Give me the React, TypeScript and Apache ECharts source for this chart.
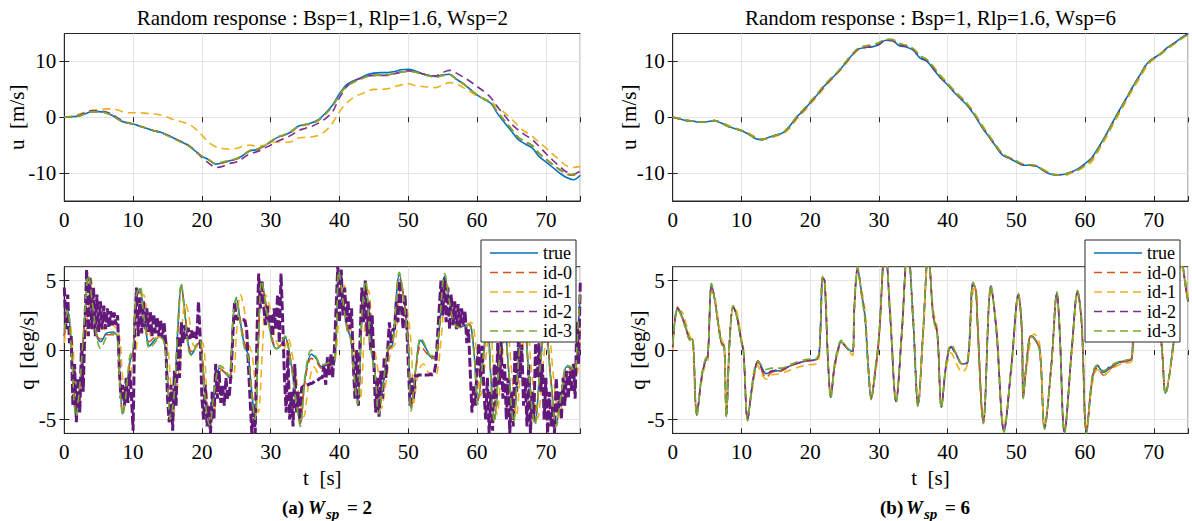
import React, { useEffect, useRef } from "react";
import * as echarts from "echarts";

const FONT = "Liberation Serif, Times New Roman, serif";
const NAMES = ["true", "id-0", "id-1", "id-2", "id-3"];
const COLORS = ["#0072BD", "#D95319", "#EDB120", "#7E2F8E", "#77AC30"];
const NOISY_PURPLE = "#62197A";
const TITLES = [
  "Random response : Bsp=1, Rlp=1.6, Wsp=2",
  "Random response : Bsp=1, Rlp=1.6, Wsp=6",
];
const X_MAX = 75;
const X_INTERVAL = 10;
const X_TICKS = [0, 10, 20, 30, 40, 50, 60, 70];
const U_TICKS = [-10, 0, 10];
const Q_TICKS = [-5, 0, 5];

// ---- top-left: u, Wsp=2 (1 s steps, t = 0..75)
const trueU2 = [0,0.1,0.2,0.6,1.0,1.0,0.8,0.3,-0.5,-1.0,-1.2,-1.6,-2.0,-2.4,-2.7,-3.2,-3.8,-4.4,-5.0,-6.0,-7.0,-7.6,-8.4,-8.2,-7.8,-7.5,-6.8,-6.0,-5.8,-5.2,-4.4,-3.6,-3.2,-2.6,-1.6,-1.3,-1.0,-0.4,0.8,2.2,4.2,5.8,6.5,7.0,7.6,7.9,8.0,8.0,8.2,8.5,8.6,8.3,7.8,7.5,7.3,7.6,7.7,6.8,6.0,5.0,4.0,3.2,2.5,0.6,-1.0,-2.5,-4.0,-4.8,-5.5,-7.0,-8.0,-9.0,-10.0,-10.8,-11.2,-10.4];
const id0U2 = [0,0.1,0.2,0.6,1.0,1.0,0.8,0.3,-0.5,-1.0,-1.2,-1.6,-2.0,-2.4,-2.7,-3.2,-3.8,-4.4,-5.0,-6.0,-7.0,-7.6,-8.3,-8.1,-7.8,-7.5,-6.8,-6.0,-5.8,-5.2,-4.4,-3.6,-3.2,-2.6,-1.7,-1.4,-1.1,-0.5,0.6,2.0,4.0,5.6,6.3,6.8,7.3,7.5,7.6,7.6,7.9,8.1,8.2,8.1,7.7,7.4,7.2,7.5,7.6,6.8,6.0,5.0,4.0,3.3,2.6,0.9,-0.6,-2.1,-3.6,-4.4,-5.1,-6.5,-7.5,-8.5,-9.4,-10.2,-10.4,-9.9];
const id1U2 = [0,0.2,0.5,0.9,1.2,1.4,1.5,1.5,1.2,0.8,0.8,0.8,0.7,0.6,0.4,0.0,-0.5,-0.8,-1.2,-2.0,-3.2,-4.5,-5.3,-5.6,-5.7,-5.6,-5.2,-5.0,-5.2,-5.0,-4.6,-4.4,-4.5,-4.4,-3.7,-3.6,-3.5,-3.2,-2.4,-1.0,1.0,2.5,3.5,4.1,4.6,5.0,5.0,5.1,5.5,5.8,6.0,5.7,5.5,5.4,5.3,5.8,6.2,6.0,5.3,4.6,3.8,3.3,2.8,1.8,0.8,-0.3,-1.6,-2.6,-3.4,-4.5,-5.5,-6.6,-7.7,-8.7,-9.0,-8.8];
const id2U2 = [0,0.1,0.3,0.8,1.2,1.1,1.0,0.5,-0.3,-0.9,-1.2,-1.6,-2.0,-2.4,-2.7,-3.2,-3.8,-4.4,-5.0,-6.0,-7.2,-8.2,-9.0,-8.8,-8.3,-8.0,-7.3,-6.5,-6.2,-5.6,-5.0,-4.3,-3.8,-3.2,-2.4,-2.0,-1.6,-1.0,-0.2,1.0,3.5,5.4,6.4,7.0,7.4,7.5,7.5,7.5,7.8,8.1,8.3,8.2,7.8,7.5,7.4,8.0,8.4,7.9,7.2,6.4,5.5,4.6,3.5,1.8,0.3,-1.2,-2.3,-3.2,-4.0,-5.2,-6.5,-7.7,-8.8,-9.8,-10.2,-9.6];
const id3U2 = [0,0.1,0.2,0.6,1.0,1.0,0.8,0.3,-0.5,-1.0,-1.2,-1.6,-2.0,-2.4,-2.7,-3.3,-3.9,-4.5,-5.1,-6.1,-7.0,-7.6,-8.3,-8.0,-7.7,-7.4,-6.7,-5.9,-5.7,-5.1,-4.3,-3.5,-3.1,-2.5,-1.6,-1.3,-1.0,-0.5,0.6,2.0,4.0,5.5,6.2,6.8,7.3,7.5,7.5,7.6,7.9,8.1,8.2,8.1,7.7,7.4,7.2,7.5,7.6,6.8,6.0,5.0,4.0,3.3,2.6,0.9,-0.6,-2.1,-3.6,-4.3,-5.0,-6.4,-7.4,-8.4,-9.3,-10.0,-10.3,-9.7];

// ---- top-right: u, Wsp=6 (1 s steps)
const trueU6 = [0,-0.3,-0.6,-0.7,-0.9,-0.8,-0.6,-1.0,-1.6,-2.0,-2.4,-3.0,-3.8,-4.0,-3.6,-3.2,-2.8,-1.6,0.0,1.2,2.6,4.0,5.5,6.8,8.0,9.5,11.0,12.2,12.5,12.6,13.0,13.8,13.7,12.8,12.6,12.0,10.6,10.0,8.5,7.0,5.8,4.4,3.2,1.9,0.2,-1.8,-3.5,-5.2,-6.8,-7.4,-8.0,-8.6,-8.6,-8.8,-9.6,-10.2,-10.3,-10.2,-9.8,-9.2,-8.3,-7.2,-5.3,-3.2,-0.9,1.3,3.4,5.6,7.6,9.6,10.6,11.4,12.5,13.3,14.2,15.0];
const id0U6 = [0,-0.2,-0.5,-0.7,-0.9,-0.8,-0.6,-0.9,-1.5,-2.0,-2.4,-2.9,-3.6,-4.0,-3.7,-3.3,-2.9,-1.8,-0.2,1.1,2.5,3.9,5.4,6.8,8.0,9.4,10.9,12.2,12.6,12.8,13.2,13.9,13.8,13.1,12.8,12.2,11.0,10.2,8.8,7.3,6.0,4.6,3.4,2.1,0.4,-1.6,-3.4,-5.1,-6.6,-7.3,-7.9,-8.5,-8.6,-8.8,-9.5,-10.1,-10.4,-10.3,-9.9,-9.4,-8.5,-7.5,-5.5,-3.4,-1.1,1.1,3.2,5.4,7.4,9.4,10.5,11.3,12.4,13.2,14.1,14.9];
const id1U6 = [0,-0.2,-0.5,-0.7,-0.8,-0.8,-0.6,-0.9,-1.4,-1.9,-2.3,-2.8,-3.5,-3.9,-3.8,-3.4,-3.0,-2.0,-0.4,0.9,2.3,3.7,5.2,6.6,7.9,9.3,10.8,12.1,12.6,12.8,13.2,13.9,13.9,13.2,12.9,12.3,11.1,10.3,9.0,7.5,6.1,4.8,3.6,2.3,0.6,-1.3,-3.1,-4.9,-6.5,-7.3,-7.9,-8.4,-8.6,-8.7,-9.4,-10.0,-10.4,-10.4,-10.0,-9.5,-8.8,-7.9,-5.9,-3.8,-1.5,0.7,2.9,5.1,7.1,9.1,10.4,11.2,12.2,13.1,14.0,14.8];
const id2U6 = [0,-0.3,-0.6,-0.7,-0.9,-0.8,-0.6,-1.0,-1.6,-2.0,-2.4,-3.0,-3.7,-4.0,-3.6,-3.2,-2.8,-1.7,-0.1,1.2,2.6,4.0,5.5,6.8,8.0,9.5,11.0,12.2,12.5,12.7,13.1,13.8,13.7,12.9,12.7,12.1,10.8,10.1,8.6,7.1,5.9,4.5,3.3,2.0,0.3,-1.7,-3.4,-5.1,-6.7,-7.3,-7.9,-8.5,-8.6,-8.8,-9.6,-10.2,-10.3,-10.2,-9.8,-9.3,-8.4,-7.3,-5.4,-3.3,-1.0,1.2,3.4,5.6,7.6,9.6,10.6,11.4,12.5,13.3,14.2,15.0];
const id3U6 = [0,-0.3,-0.6,-0.7,-0.9,-0.8,-0.6,-1.0,-1.6,-2.0,-2.4,-3.0,-3.8,-4.0,-3.6,-3.2,-2.8,-1.6,0.1,1.4,2.8,4.2,5.7,7.0,8.2,9.7,11.2,12.4,12.8,13.0,13.4,14.0,13.9,13.2,12.9,12.3,11.0,10.3,8.9,7.3,6.0,4.6,3.4,2.1,0.4,-1.6,-3.3,-5.0,-6.6,-7.2,-7.8,-8.4,-8.5,-8.7,-9.5,-10.1,-10.3,-10.2,-9.8,-9.4,-8.5,-7.4,-5.5,-3.4,-1.1,1.1,3.3,5.5,7.5,9.5,10.6,11.4,12.4,13.2,14.1,14.9];

// ---- bottom-left: q, Wsp=2
const tQ2 = [0,0.5,1.0,1.7,2.3,3.0,3.5,4.1,4.8,5.3, 6.1,7.0,7.7,8.0,8.5,9.0,9.5,10.0,10.4,11.0, 11.6,12.4,13.1,14.0,14.6,15.0,15.4,16.0,16.5,17.0, 17.5,18.1,18.5,19.2,19.7,20.1,20.6,21.1,21.8,22.6, 23.3,24.0,24.5,25.0,25.6,26.2,26.7,27.2,27.7,28.2, 28.7,29.4,30.2,30.8,31.4,32.1,32.9,33.7,34.3,35.0, 35.9,36.6,37.4,38.5,39.3,39.9,40.3,41.1,41.6,42.0, 42.6,43.3,43.8,44.5,45.2,45.7,46.4,47.1,47.7,48.7, 49.4,50.0,50.4,51.1,51.8,52.6,53.3,54.0,54.5,55.3, 56.0,56.8,57.8,58.8,59.5,60.1,60.8,61.5,62.0,62.5, 63.2,63.9,64.6,65.3,66.0,66.8,67.5,68.4,69.2,69.9, 70.7,71.5,72.3,73.0,73.6,74.2,74.6,75];
const trueQ2 = [1.0,2.8,0.5,-4.6,-2.5,2.5,5.2,3.5,0.9,0.6, 1.2,1.3,1.0,-1.5,-4.6,-3.2,-0.9,-0.1,3.5,4.4, 2.5,0.3,0.7,1.0,0.4,-2.0,-4.9,-3.2,1.5,4.7, 2.8,0.1,-0.3,0.3,0.6,-0.9,-4.0,-5.3,-3.2,-1.3, -1.6,-2.0,2.0,3.7,2.0,0.3,-0.3,-2.8,-4.9,0.5, 4.8,3.0,0.7,0.1,0.3,0.9,-0.8,-3.5,-5.3,-2.0, -0.3,-0.6,-1.2,-1.0,-0.8,5.5,4.5,1.6,0.9,-1.0, -3.7,2.7,4.8,0.4,-1.8,-4.4,-2.3,0.1,0.4,5.4, 3.5,0.4,-4.2,-1.3,0.7,0.1,-0.5,-0.4,1.5,5.3, 3.5,2.0,1.7,1.9,0.1,-3.7,-1.0,2.0,-2.0,-5.0, -1.0,2.2,-1.5,-5.0,-1.0,2.5,-1.5,-5.2,-1.0,2.0, -2.0,-5.3,-3.0,-1.2,-1.3,-1.6,1.0,4.0];
const id0Q2 = [1.0,2.7,0.5,-4.5,-2.5,2.4,5.0,3.4,1.0,0.8, 1.1,1.1,0.9,-1.4,-4.5,-3.2,-1.0,-0.2,3.3,4.2, 2.5,0.6,0.9,1.0,0.5,-1.9,-4.8,-3.2,1.3,4.5, 2.9,0.3,-0.1,0.3,0.6,-0.8,-3.9,-5.2,-3.3,-1.4, -1.6,-2.0,1.8,3.5,2.1,0.5,-0.2,-2.6,-4.8,0.3, 4.6,3.1,0.9,0.2,0.3,0.8,-0.7,-3.3,-5.2,-2.2, -0.6,-0.8,-1.3,-1.1,-0.8,5.3,4.5,1.8,1.0,-0.9, -3.6,2.5,4.7,0.6,-1.7,-4.3,-2.4,0.0,0.3,5.2, 3.6,0.6,-4.1,-1.4,0.3,-0.2,-0.6,-0.6,1.3,5.1, 3.6,2.1,1.7,1.9,0.2,-3.6,-1.1,1.9,-1.9,-4.9, -1.1,2.1,-1.5,-4.9,-1.1,2.4,-1.5,-5.1,-1.1,1.9, -2.0,-5.2,-3.0,-1.3,-1.4,-1.7,0.8,3.8];
const id3Q2 = [1.4,2.9,0.2,-4.8,-2.2,2.8,5.4,3.3,0.7,0.1, 0.9,1.2,1.0,-1.8,-4.7,-3.0,-0.5,0.2,3.8,4.6, 2.3,0.1,0.5,0.9,0.3,-2.2,-5.0,-3.0,1.8,4.8, 2.6,-0.1,-0.4,0.4,0.7,-1.0,-4.2,-5.4,-3.0,-1.1, -1.4,-1.9,2.2,3.8,1.8,0.1,-0.4,-3.0,-5.0,0.8, 5.0,2.8,0.6,0.1,0.4,1.0,-0.9,-3.7,-5.5,-1.8, 0.0,-0.5,-1.1,-0.9,-0.7,5.7,4.4,1.4,0.8,-1.2, -3.9,2.9,5.0,0.3,-1.9,-4.6,-2.2,0.2,0.5,5.6, 3.4,0.2,-4.4,-1.2,0.9,0.2,-0.4,-0.3,1.7,5.5, 3.4,1.8,1.6,1.8,0.0,-3.9,-0.9,2.1,-2.1,-5.2, -0.9,2.3,-1.6,-5.2,-0.9,2.6,-1.6,-5.4,-0.9,2.1, -2.1,-5.5,-2.9,-1.1,-1.2,-1.5,1.2,4.3];
const id1Q2Pairs = [[0,0.5],[0.6,2.5],[1.2,0.5],[2.0,-4.2],[2.6,-2.2],[3.4,2.5],[3.9,5.0],[4.5,3.3],[5.2,1.5],[5.8,1.5],[6.5,1.8],[7.3,1.7],[8.0,1.0],[8.4,-1.5],[8.9,-4.0],[9.4,-3.0],[9.9,-0.8],[10.4,-0.2],[10.9,3.0],[11.5,4.0],[12.1,2.5],[12.8,0.8],[13.5,0.9],[14.4,1.0],[15.0,0.3],[15.4,-2.0],[15.8,-4.8],[16.4,-3.0],[17.0,1.0],[17.6,3.4],[18.1,2.5],[18.7,0.4],[19.3,0.2],[19.9,0.6],[20.3,0.2],[20.8,-3.5],[21.5,-5.0],[22.2,-3.2],[23.0,-1.2],[23.8,-1.8],[24.5,-2.0],[25.0,1.0],[25.6,4.0],[26.2,2.8],[26.8,0.5],[27.3,-0.3],[27.8,-2.8],[28.2,-4.5],[28.8,0.0],[29.3,4.0],[29.9,3.0],[30.6,1.0],[31.2,0.2],[31.8,0.0],[32.5,0.8],[33.3,-0.8],[34.2,-3.5],[34.8,-4.8],[35.5,-2.5],[36.3,-1.2],[37.0,-1.8],[37.6,-2.0],[38.5,-1.2],[39.3,-0.9],[40.0,3.0],[40.6,4.8],[41.4,2.0],[42.0,0.8],[42.4,-1.0],[43.0,-3.5],[43.7,2.0],[44.2,4.3],[44.9,0.8],[45.6,-1.5],[46.1,-4.2],[46.8,-2.2],[47.5,0.0],[48.1,0.5],[49.0,4.7],[49.7,3.3],[50.4,0.5],[50.8,-3.8],[51.5,-1.5],[52.2,-1.0],[52.9,-1.6],[53.6,-1.9],[54.2,-1.6],[54.8,1.0],[55.6,4.8],[56.3,3.3],[57.1,2.0],[58.1,1.7],[59.1,2.0],[59.8,0.4],[60.5,-3.3],[61.2,-0.8],[61.9,1.8],[62.4,-1.8],[62.9,-4.6],[63.6,-0.8],[64.3,2.0],[65.0,-1.4],[65.7,-4.7],[66.4,-0.9],[67.2,2.3],[67.9,-1.4],[68.8,-4.9],[69.6,-1.0],[70.3,1.8],[71.1,-1.9],[71.9,-4.9],[72.7,-2.8],[73.4,-1.6],[74.0,-1.9],[74.6,-1.6],[75,1.5]];
// id-2 (noisy), sampled every 0.25 s
const id2Q2Step = 0.25;
const id2Q2 = [
  4.5,1.5,4.0,0.5, 1.0,-4.0,-1.0,-5.2, -2.0,-4.5,0.5,-3.0, 2.0,5.8,1.0,5.2, 1.5,4.5,1.0,4.0,
  1.3,3.5,1.5,3.2, 1.5,3.0,1.6,2.8, 1.8,2.7,1.8,2.5, -1.5,-3.5,-2.5,-4.0, -2.0,-3.8,-1.5,-3.2,
  -5.8,2.0,4.5,1.0, 3.8,1.2,3.5,1.5, 3.0,1.3,2.8,1.0, 2.6,1.2,2.4,1.0, 2.2,0.8,2.0,0.5,
  -3.5,-5.2,-2.5,-5.8, -1.5,-4.0,1.0,-2.0, 2.0,0.5,1.8,0.8, 1.6,0.8,1.4,0.9, 1.3,0.8,3.5,1.0,
  -3.5,-5.0,-2.5,-5.5, -4.0,-6.0,-3.0,-5.0, -1.0,-3.5,-1.5,-3.8, -2.5,-4.0,-2.0,-3.5, -3.2,-1.5,1.0,3.5,
  2.2,2.3,2.2,2.2, 2.2,2.1,1.5,-1.0, -3.5,-6.0,-4.0,-6.0, 1.0,5.5,3.0,5.0, 3.0,1.8,3.2,2.0,
  2.5,1.0,3.0,1.5, 4.0,0.5,5.5,2.0, -2.0,-4.5,0.0,-5.0, -3.0,-5.5,-1.0,-4.5, -3.0,-5.0,-2.7,-2.6,
  -2.6,-2.5,-2.5,-2.4, -2.4,-2.3,-2.2,-2.2, -2.1,-2.0,-2.0,-1.0, -2.5,-0.5,-1.8,-0.3, -2.0,0.0,3.0,6.0,
  2.0,5.8,2.5,4.5, 2.0,3.5,1.5,3.0, -1.0,-3.5,0.0,-4.0, 1.0,4.5,2.0,5.0, 1.0,3.5,0.0,2.5,
  -1.0,-4.5,-2.0,-4.8, -1.5,-3.5,-0.5,-2.0, 0.0,2.0,0.5,1.5, 1.5,3.5,2.0,5.0, 3.0,1.5,4.0,2.0,
  -1.0,-4.0,-2.0,-3.5, -1.8,-1.9,-1.8,-1.8, -1.8,-1.8,-1.8,-1.8, -1.8,-1.7,-1.8,-1.7, -1.0,1.0,3.0,5.0,
  2.5,5.2,2.0,4.5, 1.5,4.0,1.8,3.5, 1.5,3.3,1.6,3.0, 1.8,2.8,0.5,1.5, -1.5,-4.5,-2.5,-4.0,
  -1.0,0.5,-2.0,0.3, -3.0,-5.0,-2.0,-6.0, -3.0,-5.8,-1.0,-4.0, 0.5,-2.5,0.6,-3.5, -1.0,-5.0,-2.0,-6.0,
  -3.0,-5.5,0.0,-3.0, 0.6,-2.0,0.4,-4.0, -2.0,-5.5,-1.0,-6.0, -3.0,-5.0,0.5,-2.0, 0.5,-3.0,-1.0,-5.0,
  -2.0,-6.0,-3.0,-5.5, -4.0,-6.0,-2.0,-4.5, -3.0,-5.0,-2.0,-4.0, -1.5,-3.5,-1.5,-3.0, -1.0,-3.5,2.0,-1.0,
  5.0,
];

// ---- bottom-right: q, Wsp=6
const tQ6 = [0,0.7,1.2,2.0,2.5,2.85,3.5,4.2,4.7,5.1, 5.65,6.1,6.6,7.1,7.5,7.8,8.3,8.8,9.3,10.0, 10.3,10.9,11.5,12.0,12.4,12.8,13.6,14.4,15.8,17.3, 19.2,21.1,21.5,21.8,22.1,22.6,23.0,23.5,24.0,24.5, 25.0,25.5,26.2,26.4,26.9,27.5,28.0,28.4,28.9,29.4, 30.0,30.9,31.7,32.5,33.3,34.2,35.0,35.7,36.4,37.2, 37.9,38.5,39.1,39.8,40.5,41.3,42.1,42.9,43.7,44.1, 44.3,45.2,46.3,47.1,48.2,49.3,50.3,50.8,51.0,51.4, 52.1,52.6,53.4,54.1,55.1,55.9,56.3,57.0,58.1,58.9, 59.5,60.2,61.1,61.8,62.7,63.8,65.2,66.8,67.2,68.3, 69.3,70.3,71.1,71.7,72.9,74.0,74.8,75];
const trueQ6 = [0.2,3.0,2.6,1.5,0.8,0.8,-4.7,-2.0,-0.85,-0.5, 4.7,3.7,2.0,0.5,0.25,-4.8,0.85,3.1,2.5,0.6, -0.1,-5.0,-2.8,-1.3,-0.8,-1.1,-1.7,-1.55,-1.45,-1.1, -0.8,-0.6,1.55,5.2,5.0,-0.85,-3.4,-1.3,-0.1,0.6, 0.35,0.05,-0.1,2.8,5.9,4.0,2.3,-0.85,-3.5,-1.8, 0.85,7.5,2.0,-3.7,1.0,7.5,2.0,-4.0,1.0,7.0, 2.5,1.2,-4.1,-1.0,0.25,-0.35,-1.0,-0.85,4.8,4.3, 2.4,-5.2,4.6,1.4,-5.8,-1.0,4.0,1.4,-3.4,-1.4, 1.0,0.85,0.0,-5.6,-1.0,4.1,1.4,-5.9,0.25,4.2, 1.9,-5.9,-1.9,-1.15,-1.6,-1.2,-0.85,-0.6,5.5,4.0, 1.5,2.5,0.5,-3.1,0.7,6.5,4.0,3.5];
const id0Q6 = [0.2,3.1,2.6,1.4,0.8,0.8,-4.6,-2.0,-0.9,-0.5, 4.6,3.7,2.0,0.5,0.3,-4.7,0.8,3.1,2.6,0.7, -0.1,-4.9,-2.9,-1.4,-0.8,-1.3,-2.0,-1.6,-1.5,-1.1, -0.8,-0.6,1.5,5.2,5.0,-0.8,-3.3,-1.3,-0.1,0.6, 0.4,0.1,-0.1,2.7,5.8,4.0,2.3,-0.8,-3.4,-1.8, 0.8,7.4,2.0,-3.6,1.0,7.4,2.0,-3.9,1.0,7.0, 2.5,1.2,-4.0,-1.0,0.3,-0.3,-1.0,-0.9,4.7,4.3, 2.4,-5.1,4.5,1.4,-5.7,-1.0,3.9,1.4,-3.3,-1.4, 1.0,0.9,0.0,-5.5,-1.0,4.0,1.4,-5.8,0.3,4.1, 1.9,-5.8,-2.0,-1.3,-1.8,-1.3,-0.9,-0.7,5.4,4.0, 1.5,2.5,0.5,-3.0,0.7,6.4,4.0,3.5];
const id1Q6 = [0.0,2.8,2.8,1.8,1.0,0.7,-4.3,-2.3,-1.1,-0.8, 4.2,3.9,2.3,0.8,0.3,-4.5,0.6,3.0,2.8,0.9, 0.1,-4.7,-3.1,-1.6,-1.1,-1.6,-2.1,-1.8,-1.7,-1.4, -1.1,-0.9,1.2,4.8,5.0,-0.4,-3.2,-1.6,-0.3,0.5, 0.4,0.0,-0.4,2.3,5.5,4.3,2.7,-0.4,-3.2,-2.1, 0.5,7.2,2.6,-3.3,0.6,7.2,2.6,-3.7,0.6,6.8, 2.9,1.5,-3.8,-1.3,-0.2,-1.0,-1.6,-1.0,4.3,4.5, 2.8,-4.9,4.2,1.8,-5.4,-1.4,3.7,1.8,-3.0,-1.7, 0.7,1.15,0.4,-5.3,-1.4,3.8,1.8,-5.6,-0.2,3.9, 2.3,-5.6,-2.3,-1.4,-1.8,-1.4,-1.0,-0.8,5.0,4.3, 1.9,2.3,0.9,-2.8,0.3,6.0,4.6,3.8];
const id2Q6 = [0.2,3.0,2.6,1.5,0.8,0.8,-4.6,-2.0,-0.9,-0.5, 4.6,3.7,2.0,0.5,0.25,-4.8,0.8,3.1,2.5,0.6, -0.1,-5.0,-2.8,-1.3,-0.8,-1.2,-1.7,-1.5,-1.4,-1.1, -0.8,-0.6,1.5,5.2,5.0,-0.8,-3.4,-1.3,-0.1,0.6, 0.35,0.05,-0.1,2.8,5.9,4.0,2.3,-0.85,-3.5,-1.8, 0.85,7.5,2.0,-3.7,1.0,7.5,2.0,-4.0,1.0,7.0, 2.5,1.2,-4.1,-1.0,0.2,-0.4,-1.0,-0.9,4.8,4.3, 2.4,-5.2,4.6,1.4,-5.8,-1.0,4.0,1.4,-3.4,-1.4, 1.0,0.85,0.0,-5.6,-1.0,4.1,1.4,-5.9,0.25,4.2, 1.9,-5.9,-1.8,-1.1,-1.5,-1.1,-0.8,-0.6,5.5,4.0, 1.5,2.5,0.5,-3.1,0.7,6.5,4.0,3.5];
const id3Q6 = [0.4,3.0,2.5,1.4,0.7,0.9,-4.8,-1.8,-0.7,-0.3, 4.8,3.6,1.9,0.4,0.2,-4.9,1.0,3.2,2.4,0.5, -0.2,-5.1,-2.6,-1.1,-0.8,-1.0,-1.4,-1.3,-1.3,-1.0, -0.7,-0.5,1.8,5.3,4.8,-1.0,-3.5,-1.1,0.1,0.7, 0.4,0.1,-0.1,3.0,6.0,3.8,2.1,-1.0,-3.6,-1.6, 1.0,7.6,1.8,-3.8,1.2,7.6,1.8,-4.1,1.2,7.1, 2.3,1.0,-4.2,-0.8,0.4,-0.3,-1.0,-0.8,4.9,4.2, 2.2,-5.3,4.7,1.2,-5.9,-0.9,4.1,1.2,-3.5,-1.2, 1.0,0.8,-0.1,-5.7,-0.9,4.2,1.2,-6.0,0.4,4.3, 1.7,-6.0,-1.7,-1.1,-1.5,-1.1,-0.8,-0.5,5.6,3.9, 1.3,2.6,0.4,-3.2,0.9,6.6,3.9,3.4];

const perSecond = (vals: number[]) => vals.map((v, i) => [i, v]);
const zipT = (ts: number[], vals: number[]) => vals.map((v, i) => [ts[i], v]);
const stepped = (vals: number[], step: number) => vals.map((v, i) => [i * step, v]);

const GRIDS = [
  { left: 64.3, top: 33.5, width: 516, height: 167.5 },
  { left: 672.7, top: 33.5, width: 515.5, height: 167.5 },
  { left: 64.3, top: 266.7, width: 516, height: 166.7 },
  { left: 672.7, top: 266.7, width: 515.5, height: 166.7 },
];
const Y_NAME_OFFSETS = [47.3, 44.2, 37.3, 34.7];
const LEGEND_LEFTS = [481, 1085];

const DARK = "#262626";
const DASH = [8, 5];

function buildOption() {
  const xAxes: any[] = [];
  const yAxes: any[] = [];
  GRIDS.forEach((g, i) => {
    const isBottom = i >= 2;
    const ticks = isBottom ? Q_TICKS : U_TICKS;
    const yr = isBottom ? 6 : 15;
    xAxes.push({
      type: "value", gridIndex: i, min: 0, max: X_MAX, interval: X_INTERVAL, position: "bottom",
      axisLine: { show: true, onZero: false, lineStyle: { color: DARK, width: 1 } },
      axisTick: { show: true, inside: true, length: 5, lineStyle: { color: DARK } },
      axisLabel: { show: false },
      splitLine: { show: true, lineStyle: { color: "#e4e4e4", width: 1 } },
    });
    yAxes.push({
      type: "value", gridIndex: i, min: -yr, max: yr, position: "left",
      axisLine: { show: true, onZero: false, lineStyle: { color: DARK, width: 1 } },
      axisTick: { show: true, inside: true, length: 5, lineStyle: { color: DARK }, customValues: ticks },
      axisLabel: { show: false, customValues: ticks },
      splitLine: { show: true, lineStyle: { color: "#e4e4e4", width: 1 } },
    });
  });
  GRIDS.forEach((g, i) => {
    const isBottom = i >= 2;
    const ticks = isBottom ? Q_TICKS : U_TICKS;
    const yr = isBottom ? 6 : 15;
    xAxes.push({
      type: "value", gridIndex: i, min: 0, max: X_MAX, interval: X_INTERVAL, position: "top",
      axisLine: { show: false },
      axisTick: { show: true, inside: true, length: 5, lineStyle: { color: DARK } },
      axisLabel: { show: false }, splitLine: { show: false },
    });
    yAxes.push({
      type: "value", gridIndex: i, min: -yr, max: yr, position: "right",
      axisLine: { show: false },
      axisTick: { show: true, inside: true, length: 5, lineStyle: { color: DARK }, customValues: ticks },
      axisLabel: { show: false, customValues: ticks }, splitLine: { show: false },
    });
  });

  const datasets: any[][] = [
    [perSecond(trueU2), perSecond(id0U2), perSecond(id1U2), perSecond(id2U2), perSecond(id3U2)],
    [perSecond(trueU6), perSecond(id0U6), perSecond(id1U6), perSecond(id2U6), perSecond(id3U6)],
    [zipT(tQ2, trueQ2), zipT(tQ2, id0Q2), id1Q2Pairs, stepped(id2Q2, id2Q2Step), zipT(tQ2, id3Q2)],
    [zipT(tQ6, trueQ6), zipT(tQ6, id0Q6), zipT(tQ6, id1Q6), zipT(tQ6, id2Q6), zipT(tQ6, id3Q6)],
  ];

  const series: any[] = [];
  datasets.forEach((group, gi) => {
    group.forEach((data, si) => {
      const noisy = gi === 2 && si === 3;
      const color = noisy ? NOISY_PURPLE : COLORS[si];
      series.push({
        type: "line", name: NAMES[si], data,
        xAxisIndex: gi, yAxisIndex: gi,
        symbol: "none", showSymbol: false,
        smooth: noisy ? false : 0.35,
        clip: true,
        lineStyle: { color, width: noisy ? 3 : 1.6, type: si === 0 ? "solid" : (noisy ? [9, 3] : DASH) },
        itemStyle: { color },
        emphasis: { disabled: true },
        z: 2 + si,
      });
    });
  });

  return {
    animation: false,
    textStyle: { fontFamily: FONT },
    grid: GRIDS.map((g) => ({ ...g, show: true, borderColor: DARK, borderWidth: 1, containLabel: false })),
    xAxis: xAxes,
    yAxis: yAxes,
    series,
  };
}

const txt = (x: number, y: number, text: string, o: any = {}) => ({
  type: "text", x, y, z: o.z ?? 50, rotation: o.rotation ?? 0,
  style: {
    text, fill: "#000", fontSize: o.size ?? 21, fontFamily: FONT,
    fontWeight: o.weight ?? "normal", fontStyle: o.italic ? "italic" : "normal",
    textAlign: o.align ?? "center", align: o.align ?? "center",
    textVerticalAlign: "middle", verticalAlign: "middle",
  },
});

function buildTextGraphics(chart: any) {
  const els: any[] = [];
  GRIDS.forEach((g, i) => {
    const isBottom = i >= 2;
    const bottom = g.top + g.height;
    if (isBottom) els.push(txt(g.left + g.width / 2, 477.5, "t  [s]"));
    else els.push(txt(g.left + g.width / 2, 18, TITLES[i]));
    els.push(txt(g.left - Y_NAME_OFFSETS[i], g.top + g.height / 2, isBottom ? "q  [deg/s]" : "u  [m/s]", { rotation: Math.PI / 2 }));
    X_TICKS.forEach((v) => {
      const px = chart.convertToPixel({ xAxisIndex: i }, v);
      els.push(txt(px, bottom + 18.5, String(v)));
    });
    (isBottom ? Q_TICKS : U_TICKS).forEach((v) => {
      const py = chart.convertToPixel({ yAxisIndex: i }, v);
      els.push(txt(g.left - 8, py, String(v), { align: "right" }));
    });
  });
  // legends
  LEGEND_LEFTS.forEach((lx) => {
    els.push({
      type: "rect", z: 60,
      shape: { x: lx, y: 240, width: 95, height: 102 },
      style: { fill: "#fff", stroke: DARK, lineWidth: 1 },
    });
    NAMES.forEach((n, k) => {
      const y = 253 + 19.5 * k;
      els.push({
        type: "line", z: 61,
        shape: { x1: lx + 9, y1: y, x2: lx + 57, y2: y },
        style: { stroke: COLORS[k], lineWidth: 1.6, lineDash: k === 0 ? null : DASH },
      });
      els.push(txt(lx + 62, y, n, { size: 18, align: "left", z: 62 }));
    });
  });
  // captions
  const cap = (x: number, y: number, t: string, size: number, italic: boolean) =>
    txt(x, y, t, { size, italic, weight: "bold", align: "left" });
  els.push(cap(282, 507, "(a)", 19, false), cap(308, 507, "W", 19, true), cap(326, 514, "sp", 15, true), cap(347, 507, "= 2", 19, false));
  els.push(cap(880, 507, "(b)", 19, false), cap(906, 507, "W", 19, true), cap(924, 514, "sp", 15, true), cap(945, 507, "= 6", 19, false));
  return els;
}

export default function App() {
  const ref = useRef<HTMLDivElement>(null);
  useEffect(() => {
    if (!ref.current) return;
    const chart = echarts.init(ref.current, undefined, { renderer: "svg" });
    chart.setOption(buildOption() as any);
    chart.setOption({ graphic: buildTextGraphics(chart) } as any);
    return () => chart.dispose();
  }, []);
  return <div ref={ref} style={{ position: "absolute", left: 0, top: 0, width: 1192, height: 521 }} />;
}
